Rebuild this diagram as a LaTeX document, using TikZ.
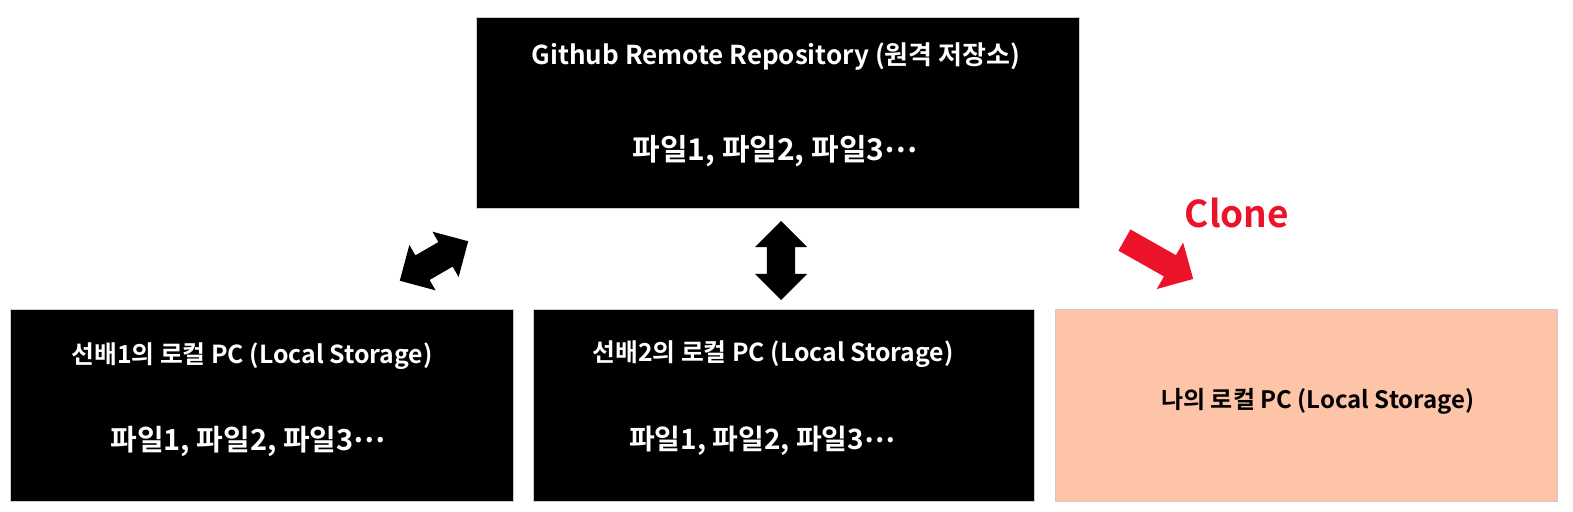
\documentclass[tikz,border=0pt]{standalone}
\usepackage{fontspec}
\usepackage{xcolor}
\usetikzlibrary{shapes.arrows}
\newfontfamily\krfont{Noto Sans CJK KR}[BoldFont={Noto Sans CJK KR Bold}]
\definecolor{peach}{RGB}{253,196,167}
\definecolor{clonered}{RGB}{236,18,42}
\newcommand{\middots}{\raisebox{0.27em}{…}}

\begin{document}
\begin{tikzpicture}[x=1pt,y=-1pt,
  box/.style={draw=gray!40,thin,fill=black,rectangle,inner sep=0pt},
  boxtitle/.style={text=white,font=\krfont\bfseries\fontsize{#1}{#1}\selectfont},
  boxfiles/.style={text=white,font=\krfont\bfseries\fontsize{#1}{#1}\selectfont},
  blockarrow/.style={double arrow,fill=black,inner xsep=0pt,inner ysep=14pt,
    minimum width=52pt,double arrow head extend=12pt,minimum height=79pt}]
\useasboundingbox (0,0) rectangle (1573,511);
% boxes
\node[box,minimum width=603pt,minimum height=191pt] (repo) at (777.5,112.5) {};
\node[box,minimum width=503pt,minimum height=192pt] (senior1) at (261.5,405) {};
\node[box,minimum width=501pt,minimum height=192pt] (senior2) at (783.5,405) {};
\node[box,fill=peach,minimum width=502pt,minimum height=192pt] (mine) at (1306,405) {};
% texts
\node[boxtitle=26] (repotitle) at (776,57) {Github Remote Repository (원격 저장소)};
\node[boxfiles=30] (repofiles) at (775,151) {파일1, 파일2, 파일3\middots};
\node[boxtitle=24.8] (s1title) at (252,356) {선배1의 로컬 PC (Local Storage)};
\node[boxfiles=29] (s1files) at (248,441) {파일1, 파일2, 파일3\middots};
\node[boxtitle=24.8] (s2title) at (773,354) {선배2의 로컬 PC (Local Storage)};
\node[boxfiles=28] (s2files) at (762,441) {파일1, 파일2, 파일3\middots};
\node[boxtitle=24,text=black] (minetitle) at (1318,401) {나의 로컬 PC (Local Storage)};
% arrows
\node[blockarrow,rotate=30] (sync1) at (434,261) {};
\node[blockarrow,rotate=90] (sync2) at (781,260.5) {};
\node[single arrow,fill=clonered,inner xsep=0pt,inner ysep=12pt,minimum width=53pt,
  single arrow head extend=14.5pt,minimum height=79pt,rotate=-29.5] (clonearrow) at (1153.5,256.5) {};
\node[text=clonered,font=\krfont\bfseries\fontsize{37}{40}\selectfont] (clone) at (1237,213) {Clone};
\end{tikzpicture}
\end{document}
